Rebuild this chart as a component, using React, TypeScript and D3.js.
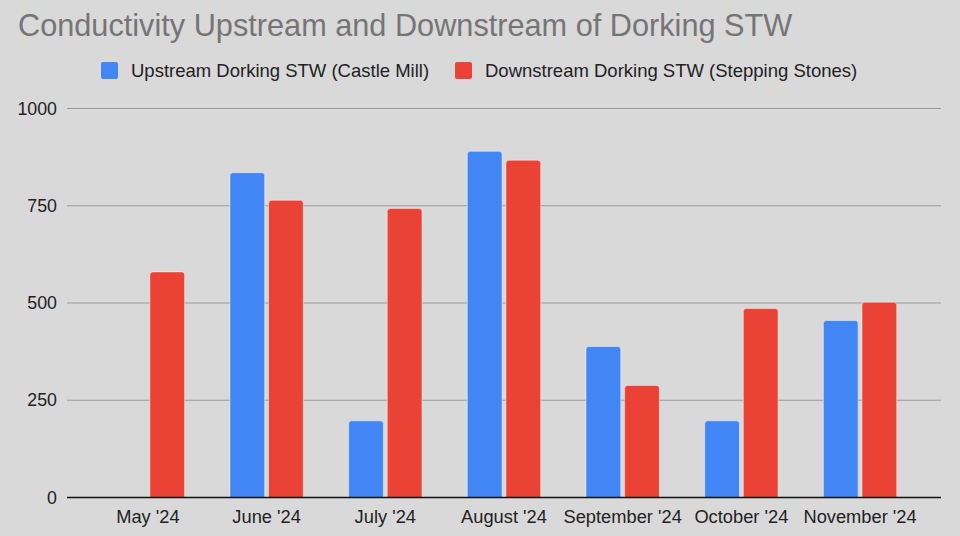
import React, { useEffect, useRef } from 'react';
import * as d3 from 'd3';

const months = ["May '24", "June '24", "July '24", "August '24", "September '24", "October '24", "November '24"];
const upstream = [null, 835, 197, 890, 388, 197, 455];
const downstream = [580, 764, 743, 867, 288, 486, 502];
const seriesNames = ['Upstream Dorking STW (Castle Mill)', 'Downstream Dorking STW (Stepping Stones)'];
const seriesColors = ['#4285f4', '#ea4335'];
const yTicks = [0, 250, 500, 750, 1000];

const W = 960;
const H = 536;
const font = "'Liberation Sans', Arial, sans-serif";

// rect with only the top corners rounded
function topRounded(x: number, y: number, w: number, h: number, r: number) {
  const rr = Math.min(r, h, w / 2);
  return `M${x},${y + h}V${y + rr}Q${x},${y} ${x + rr},${y}H${x + w - rr}Q${x + w},${y} ${x + w},${y + rr}V${y + h}Z`;
}

export default function App() {
  const ref = useRef<SVGSVGElement>(null);

  useEffect(() => {
    if (!ref.current) return;
    const svg = d3.select(ref.current);
    svg.selectAll('*').remove();

    svg.append('rect').attr('width', W).attr('height', H).attr('fill', '#d9d9d9');

    const left = 67, right = 941, top = 108.5, bottom = 497.5;

    const x = d3.scaleBand<string>().domain(months).range([left, right])
      .paddingInner(0.382).paddingOuter(0.373);
    const sub = d3.scaleBand<number>().domain([0, 1]).range([0, x.bandwidth()]).paddingInner(0.1);
    const y = d3.scaleLinear().domain([0, 1000]).range([bottom, top]);

    // title
    svg.append('text')
      .attr('x', 18).attr('y', 36)
      .attr('font-family', font).attr('font-size', 30.7)
      .attr('fill', '#757575')
      .text('Conductivity Upstream and Downstream of Dorking STW');

    // legend
    const legendX = [101, 455];
    seriesNames.forEach((name, i) => {
      svg.append('rect')
        .attr('x', legendX[i]).attr('y', 62).attr('width', 17).attr('height', 17).attr('rx', 2)
        .attr('fill', seriesColors[i]);
      svg.append('text')
        .attr('x', legendX[i] + 30).attr('y', 77)
        .attr('font-family', font).attr('font-size', 18.5)
        .attr('fill', '#222')
        .text(name);
    });

    // gridlines and y labels
    yTicks.forEach(t => {
      if (t !== 0) {
        svg.append('line')
          .attr('x1', left).attr('x2', right)
          .attr('y1', y(t)).attr('y2', y(t))
          .attr('stroke', '#9a9a9a').attr('stroke-width', 1);
      }
      svg.append('text')
        .attr('x', 57).attr('y', y(t)).attr('dy', '0.35em')
        .attr('text-anchor', 'end')
        .attr('font-family', font).attr('font-size', 17.8)
        .attr('fill', '#222')
        .text(String(t));
    });

    // bars
    const series = [upstream, downstream];
    series.forEach((vals, si) => {
      vals.forEach((v, mi) => {
        if (v == null) return;
        const bx = (x(months[mi]) as number) + (sub(si) as number);
        const by = y(v);
        svg.append('path')
          .attr('d', topRounded(bx, by, sub.bandwidth(), bottom - by, 3))
          .attr('fill', seriesColors[si])
          .attr('stroke', 'rgba(255,255,255,0.45)')
          .attr('stroke-width', 1);
      });
    });

    // baseline
    svg.append('line')
      .attr('x1', left).attr('x2', right)
      .attr('y1', bottom).attr('y2', bottom)
      .attr('stroke', '#111').attr('stroke-width', 1.5);

    // x labels
    months.forEach(m => {
      svg.append('text')
        .attr('x', (x(m) as number) + x.bandwidth() / 2).attr('y', 523)
        .attr('text-anchor', 'middle')
        .attr('font-family', font).attr('font-size', 18.3)
        .attr('fill', '#222')
        .text(m);
    });
  }, []);

  return (
    <div style={{ position: 'fixed', left: 0, top: 0 }}>
      <svg ref={ref} width={W} height={H} />
    </div>
  );
}
